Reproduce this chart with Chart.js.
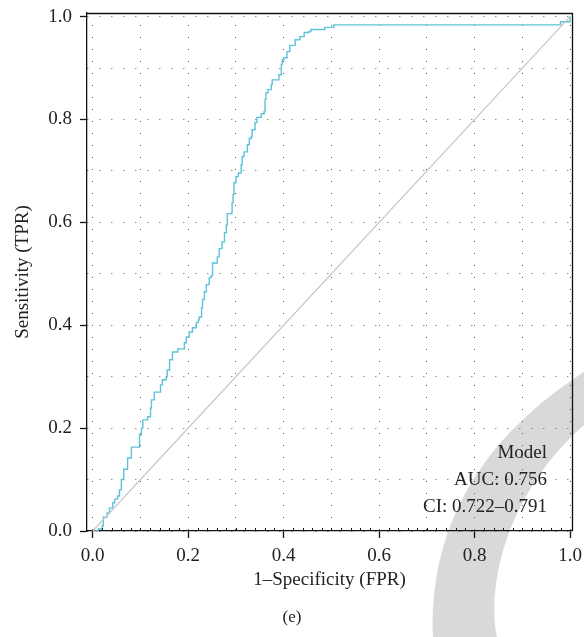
<!DOCTYPE html>
<html>
<head>
<meta charset="utf-8">
<script src="https://cdn.jsdelivr.net/npm/chart.js@4"></script>
<style>
  html, body { margin: 0; padding: 0; background: #fff; }
</style>
</head>
<body>
<canvas id="roc" width="584" height="637"></canvas>
<script>
// ROC curve points (1-specificity, sensitivity)
const fpr = [0, 0.012, 0.02, 0.022, 0.03, 0.035, 0.042, 0.046, 0.052, 0.056, 0.06, 0.065, 0.073, 0.081, 0.094,
  0.098, 0.102, 0.105, 0.109, 0.115, 0.121, 0.123, 0.129, 0.14, 0.142, 0.146, 0.154, 0.156, 0.161, 0.167,
  0.178, 0.188, 0.192, 0.196, 0.202, 0.209, 0.217, 0.221, 0.223, 0.228, 0.23, 0.234, 0.238, 0.244, 0.248,
  0.251, 0.259, 0.261, 0.265, 0.271, 0.276, 0.28, 0.282, 0.291, 0.292, 0.294, 0.296, 0.3, 0.305, 0.311,
  0.313, 0.317, 0.324, 0.328, 0.332, 0.334, 0.34, 0.344, 0.353, 0.359, 0.361, 0.363, 0.367, 0.374, 0.376,
  0.386, 0.39, 0.395, 0.397, 0.4, 0.407, 0.413, 0.422, 0.424, 0.432, 0.434, 0.441, 0.443, 0.453, 0.457,
  0.484, 0.486, 0.503, 0.505, 0.979, 0.98, 1.0, 1.0];
const tpr = [0, 0.004, 0.01, 0.027, 0.035, 0.045, 0.055, 0.062, 0.068, 0.08, 0.10, 0.12, 0.142, 0.163, 0.163,
  0.187, 0.2, 0.216, 0.216, 0.222, 0.239, 0.255, 0.27, 0.27, 0.284, 0.294, 0.3, 0.313, 0.333, 0.348,
  0.354, 0.354, 0.366, 0.377, 0.387, 0.395, 0.405, 0.41, 0.416, 0.434, 0.45, 0.465, 0.479, 0.492, 0.496,
  0.521, 0.521, 0.533, 0.549, 0.562, 0.58, 0.595, 0.617, 0.619, 0.638, 0.654, 0.677, 0.689, 0.696, 0.712,
  0.728, 0.737, 0.751, 0.763, 0.767, 0.78, 0.794, 0.804, 0.811, 0.815, 0.839, 0.852, 0.858, 0.868, 0.877,
  0.877, 0.887, 0.907, 0.916, 0.92, 0.932, 0.944, 0.944, 0.955, 0.955, 0.961, 0.961, 0.969, 0.971, 0.975,
  0.975, 0.979, 0.979, 0.984, 0.985, 0.99, 0.99, 1.0];

// chance line
const refX = [0, 1];
const refY = [0, 1];

const tickLabels = ['0.0', '0.2', '0.4', '0.6', '0.8', '1.0'];
const modelText = ['Model', 'AUC: 0.756', 'CI: 0.722\u20130.791'];
const panelTag = '(e)';

const serif = '"Liberation Serif", "DejaVu Serif", serif';
const ink = '#222';

function isMajor(v) {
  return Math.round(v * 10) % 2 === 0;
}
function labelFor(v) {
  const k = Math.round(v * 5);
  return isMajor(v) ? tickLabels[k] : '';
}

const decor = {
  id: 'decor',
  beforeDraw(chart) {
    const ctx = chart.ctx;
    ctx.save();
    ctx.fillStyle = '#fff';
    ctx.fillRect(0, 0, chart.width, chart.height);
    // grey brush stroke in the lower right corner
    ctx.fillStyle = '#d9d9d9';
    ctx.beginPath();
    ctx.moveTo(584, 372);
    ctx.bezierCurveTo(510, 420, 428, 500, 433, 637);
    ctx.lineTo(497, 637);
    ctx.bezierCurveTo(486, 580, 510, 490, 584, 425);
    ctx.closePath();
    ctx.fill();
    ctx.restore();
  },
  afterDraw(chart) {
    const {ctx, chartArea: a, scales: {x}} = chart;
    ctx.save();
    ctx.strokeStyle = '#111';
    ctx.lineWidth = 1.3;
    ctx.beginPath();
    ctx.moveTo(a.left, a.top + 0.5);
    ctx.lineTo(a.right + 0.5, a.top + 0.5);
    ctx.lineTo(a.right + 0.5, a.bottom);
    ctx.stroke();

    // small inward ticks along the x axis
    ctx.lineWidth = 1;
    ctx.beginPath();
    for (let i = 1; i < 50; i++) {
      if (i % 10 === 0) continue;
      const px = Math.round(x.getPixelForValue(i * 0.02)) + 0.5;
      ctx.moveTo(px, a.bottom);
      ctx.lineTo(px, a.bottom - 3);
    }
    ctx.stroke();

    ctx.fillStyle = ink;
    ctx.font = '19px ' + serif;
    ctx.textAlign = 'right';
    ctx.textBaseline = 'middle';
    modelText.forEach((t, i) => ctx.fillText(t, a.right - 25, 453 + i * 27));

    ctx.textAlign = 'center';
    ctx.font = '17px ' + serif;
    ctx.fillText(panelTag, chart.width / 2, 618);
    ctx.restore();
  }
};

const gridOpts = {
  color: '#5a5a5a',
  lineWidth: 1,
  tickLength: 7,
  tickWidth: 1.3,
  tickColor: (c) => (c.tick && isMajor(c.tick.value) ? '#111' : 'rgba(0,0,0,0)')
};

const ctx = document.getElementById('roc').getContext('2d');
const chart = new Chart(ctx, {
  type: 'scatter',
  data: {
    datasets: [
      {
        data: refX.map((v, i) => ({x: v, y: refY[i]})),
        showLine: true,
        borderColor: '#c6c6c6',
        borderWidth: 1.2,
        pointRadius: 0
      },
      {
        data: fpr.map((v, i) => ({x: v, y: tpr[i]})),
        showLine: true,
        stepped: 'before',
        borderColor: '#5ec2da',
        borderWidth: 1.4,
        pointRadius: 0
      }
    ]
  },
  options: {
    responsive: false,
    animation: false,
    layout: {padding: {top: 0, right: 0, bottom: 40, left: 0}},
    plugins: {legend: {display: false}, tooltip: {enabled: false}},
    scales: {
      x: {
        type: 'linear',
        min: -0.012,
        max: 1.004,
        afterFit: (s) => {
          s.height = 66;
          s.paddingLeft = 0;
          s.paddingRight = 12;
        },
        ticks: {
          stepSize: 0.1,
          includeBounds: false,
          autoSkip: false,
          maxRotation: 0,
          padding: 7,
          color: ink,
          font: {family: serif, size: 19},
          callback: labelFor
        },
        grid: gridOpts,
        border: {display: true, color: '#111', width: 1.3, dash: [1, 11]},
        title: {
          display: true,
          text: '1\u2013Specificity (FPR)',
          color: ink,
          font: {family: serif, size: 19},
          padding: {top: 0, bottom: 6}
        }
      },
      y: {
        type: 'linear',
        min: 0,
        max: 1.007,
        afterFit: (s) => {
          s.width = 87;
          s.paddingTop = 13;
          s.paddingBottom = 0;
        },
        ticks: {
          stepSize: 0.1,
          includeBounds: false,
          autoSkip: false,
          padding: 8,
          color: ink,
          font: {family: serif, size: 19},
          callback: labelFor
        },
        grid: gridOpts,
        border: {display: true, color: '#111', width: 1.3, dash: [1, 11]},
        title: {
          display: true,
          text: 'Sensitivity (TPR)',
          color: ink,
          font: {family: serif, size: 19},
          padding: {top: 12, bottom: 0}
        }
      }
    }
  },
  plugins: [decor]
});
</script>
</body>
</html>
